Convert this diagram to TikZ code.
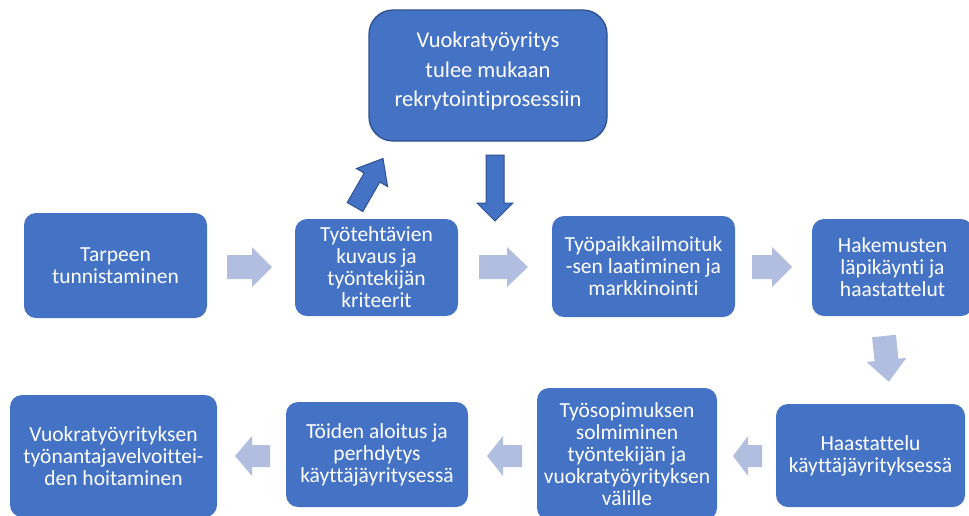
\documentclass[tikz,border=0pt]{standalone}
\usepackage{fontspec}
\setmainfont{Carlito}[Ligatures={NoCommon}]
\definecolor{boxblue}{HTML}{4472C4}
\definecolor{darkedge}{HTML}{2F528F}
\definecolor{lightarrow}{RGB}{177,190,224}
\newcommand{\BArrow}[8]{%
  % #1 style, #2 start (x,y), #3 angle, #4 length, #5 head length, #6 shaft half, #7 head half, #8 name
  \begin{scope}[shift={#2},rotate=#3]
    \path[#1] (0,-#6) -- ({#4-#5},-#6) -- ({#4-#5},-#7) -- (#4,0) -- ({#4-#5},#7) -- ({#4-#5},#6) -- (0,#6) -- cycle;
    \coordinate (#8) at (#4,0);
  \end{scope}}
\begin{document}
\begin{tikzpicture}[x=1pt,y=-1pt,
  box/.style={rectangle, rounded corners=12pt, fill=boxblue, draw=none,
    text=white, align=center, font=\fontsize{21.5}{22}\selectfont, inner sep=2pt},
  topbox/.style={box, rounded corners=24pt, draw=darkedge, line width=1.3pt,
    font=\fontsize{22.5}{29.5}\selectfont},
  lightarr/.style={fill=lightarrow},
  darkarr/.style={fill=boxblue, draw=darkedge, line width=1pt, line join=miter}]
\useasboundingbox (0,0) rectangle (969,515);

\node[box, minimum width=183pt, minimum height=105pt] (n1) at (115.5,265.5)
  {Tarpeen\\tunnistaminen};
\node[box, minimum width=163pt, minimum height=97pt] (n2) at (376.5,267.5)
  {Työtehtävien\\kuvaus ja\\työntekijän\\kriteerit};
\node[topbox, minimum width=238pt, minimum height=131pt] (top) at (488,75.5) {};
\node[box, fill=none, font=\fontsize{22.5}{29.5}\selectfont] (toptext) at (488,71)
  {Vuokratyöyritys\\tulee mukaan\\rekrytointiprosessiin};
\node[box, minimum width=183pt, minimum height=101pt] (n3) at (643.5,266.5)
  {Työpaikkailmoituk\\-sen laatiminen ja\\markkinointi};
\node[box, minimum width=161pt, minimum height=97pt] (n4) at (892.5,267.5)
  {Hakemusten\\läpikäynti ja\\haastattelut};
\node[box, minimum width=189pt, minimum height=103pt] (n5) at (870.5,455.5)
  {Haastattelu\\käyttäjäyrityksessä};
\node[box, minimum width=180pt, minimum height=132pt] (n6) at (627,454)
  {Työsopimuksen\\solmiminen\\työntekijän ja\\vuokratyöyrityksen\\välille};
\node[box, minimum width=182pt, minimum height=105pt] (n7) at (377,454.5)
  {Töiden aloitus ja\\perhdytys\\käyttäjäyritysessä};
\node[box, minimum width=207pt, minimum height=122pt] (n8) at (113.5,456)
  {Vuokratyöyrityksen\\työnantajavelvoittei-\\den hoitaminen};

% light block arrows (top row, pointing right)
\BArrow{lightarr}{(227,267)}{0}{45}{20}{12}{20}{a1}
\BArrow{lightarr}{(479,267)}{0}{49}{21}{12}{20}{a2}
\BArrow{lightarr}{(752,267)}{0}{40}{20}{12}{20}{a3}
% down arrow at right
\BArrow{lightarr}{(884,336)}{-84}{46}{22}{12}{20}{a4}
% bottom row, pointing left
\BArrow{lightarr}{(762,456)}{180}{29}{15}{11}{20}{a5}
\BArrow{lightarr}{(522,456)}{180}{35}{16}{11}{20}{a6}
\BArrow{lightarr}{(270,456)}{180}{35}{17}{11}{20}{a7}

% dark arrows to/from top box
\BArrow{darkarr}{(355,207)}{60}{56}{22}{9}{18}{a8}
\BArrow{darkarr}{(495,155)}{-90}{66}{18}{9}{18}{a9}
\end{tikzpicture}
\end{document}
